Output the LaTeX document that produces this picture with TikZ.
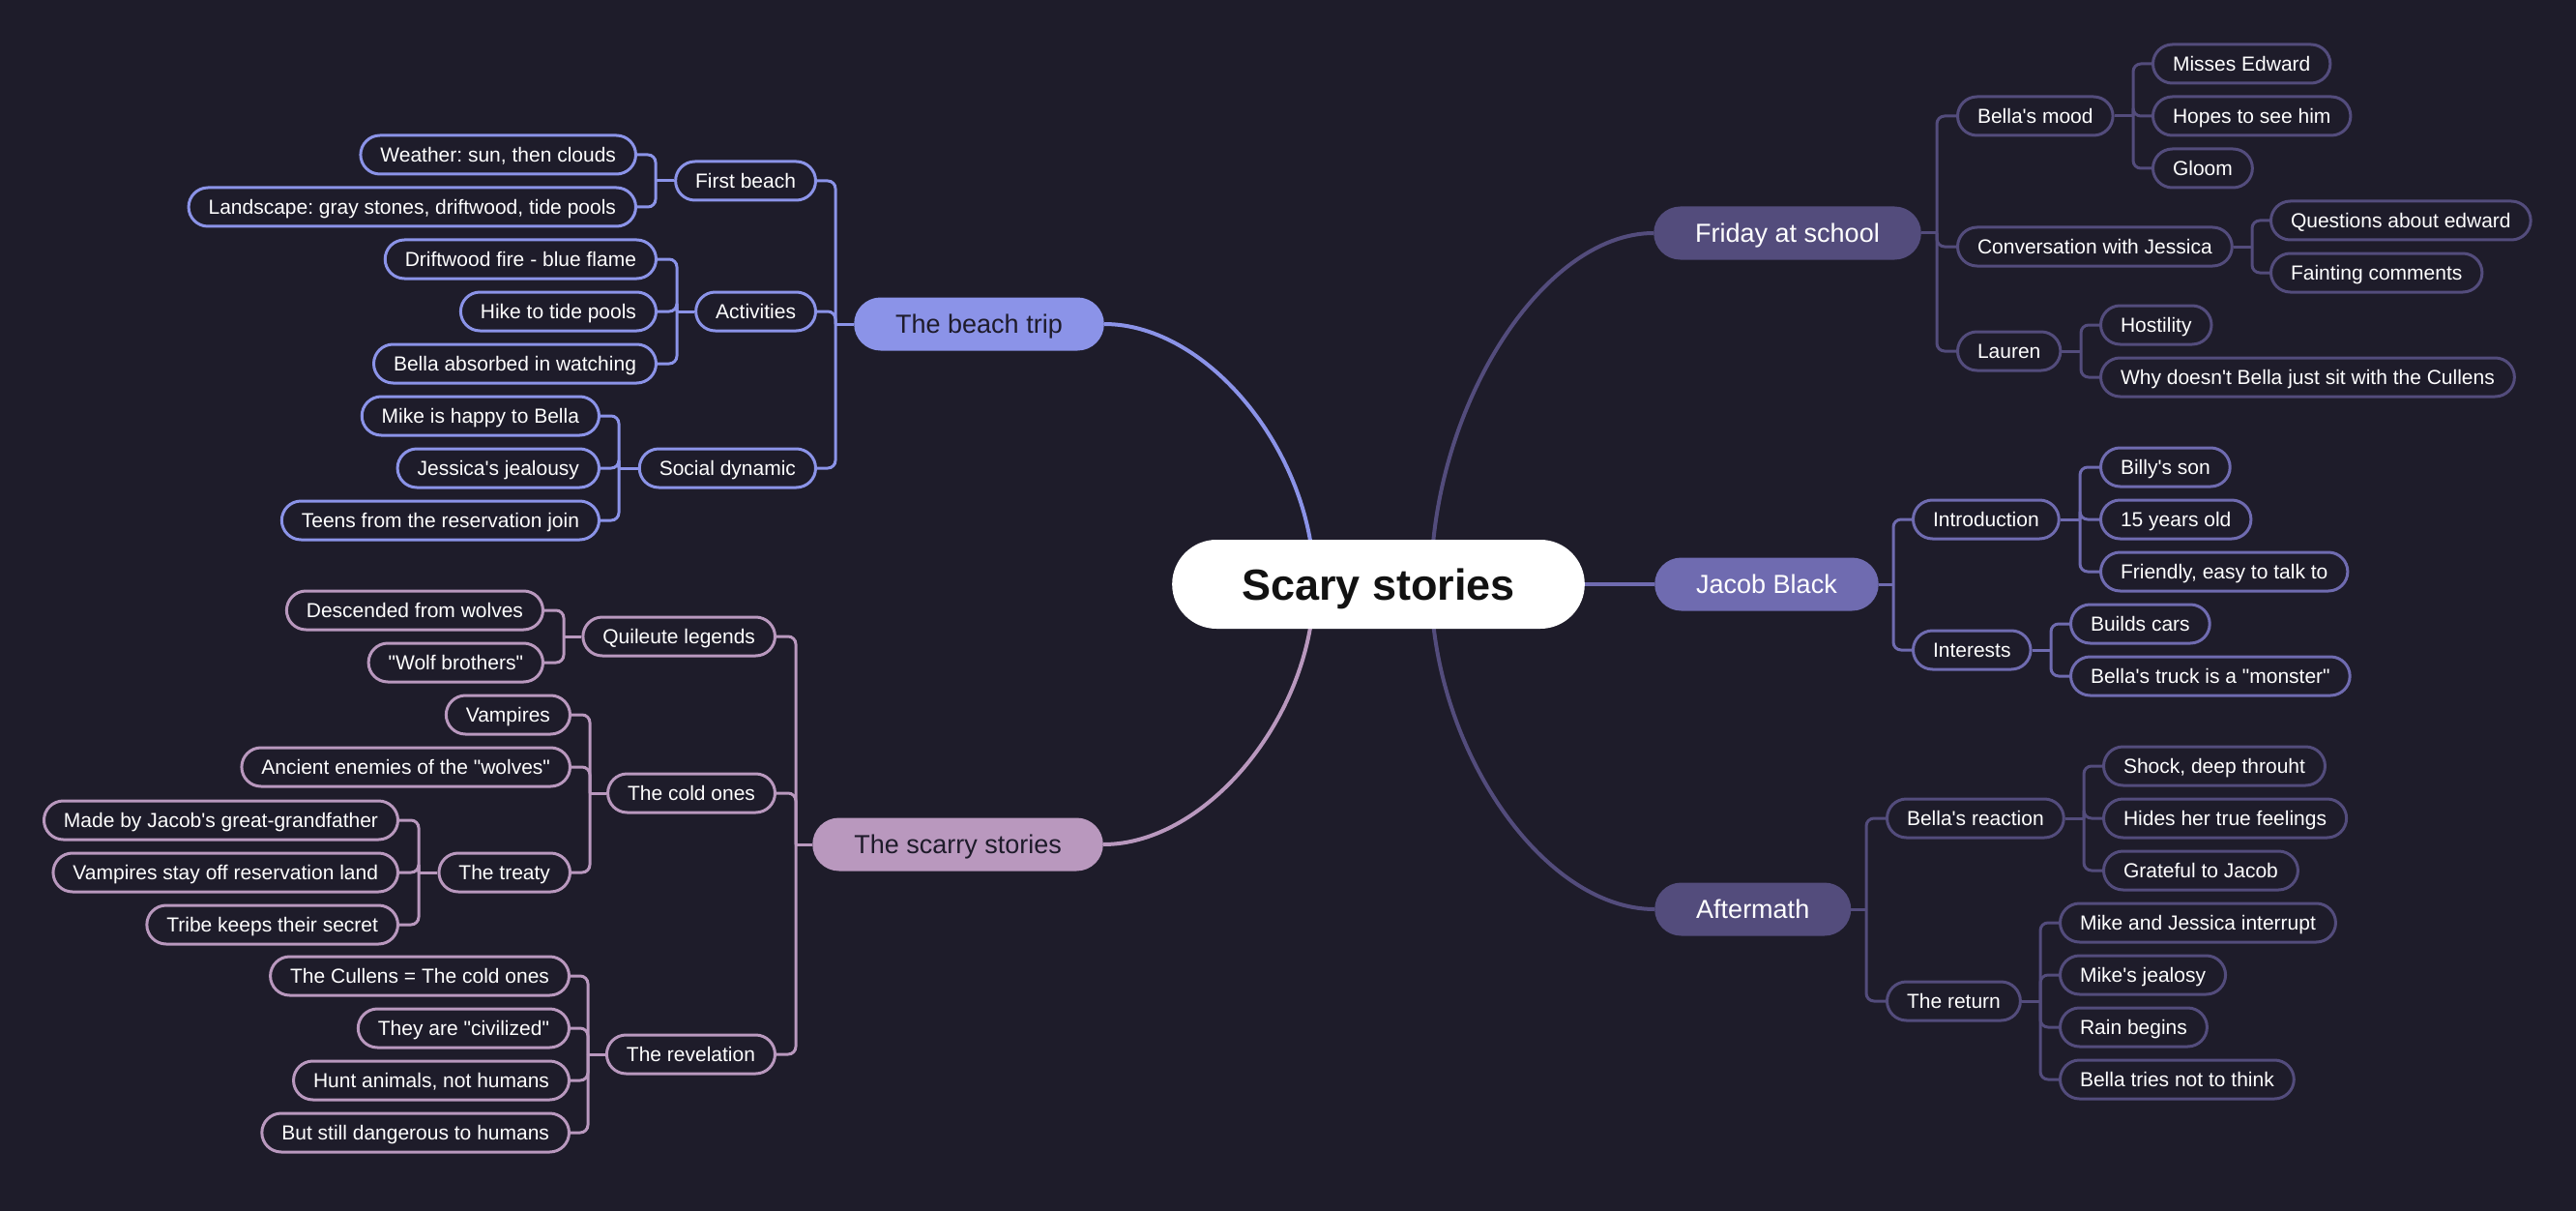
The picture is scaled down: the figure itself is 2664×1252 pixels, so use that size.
\documentclass[tikz,border=0pt]{standalone}
\usepackage{fontspec}
\newfontfamily\af{Liberation Sans}
\usetikzlibrary{backgrounds}
\frenchspacing
\definecolor{bgc}{RGB}{30,28,42}
\definecolor{cB}{RGB}{139,147,232}
\definecolor{cS}{RGB}{185,152,190}
\definecolor{cF}{RGB}{83,76,124}
\definecolor{cJ}{RGB}{111,107,176}
\definecolor{txd}{RGB}{30,27,42}
\tikzset{
  leaf/.style={draw=#1, line width=3pt, fill=bgc, rounded corners=20pt,
    minimum height=40pt, inner xsep=20.5pt, inner ysep=0pt, text=white,
    font=\af\frenchspacing\fontsize{21}{21}\selectfont, text height=17.5pt, text depth=2.5pt},
  mainnode/.style={fill=#1, rounded corners=27.5pt, minimum height=55pt,
    inner xsep=43pt, inner ysep=0pt, font=\af\fontsize{27}{27}\selectfont,
    text height=21pt, text depth=1.7pt},
  rootnode/.style={fill=white, rounded corners=46pt, minimum height=92pt,
    inner xsep=72pt, inner ysep=0pt, text=black!93,
    font=\af\bfseries\fontsize{45}{45}\selectfont, text height=34pt, text depth=1.8pt},
  mainline/.style={draw=#1, line width=4pt},
  subline/.style={draw=#1, line width=3pt},
}
\newcommand\rbranch[4]{%
  \coordinate (tmp) at (#3,0);
  \draw[subline=#1] (#2.east) -- (#2.east -| tmp);
  \foreach \ch in {#4} \draw[subline=#1,rounded corners=8pt] (#2.east -| tmp) |- (\ch.west);
}
\newcommand\lbranch[4]{%
  \coordinate (tmp) at (#3,0);
  \draw[subline=#1] (#2.west) -- (#2.west -| tmp);
  \foreach \ch in {#4} \draw[subline=#1,rounded corners=8pt] (#2.west -| tmp) |- (\ch.east);
}
\begin{document}
\begin{tikzpicture}[x=1pt,y=-1pt]
\useasboundingbox (0,0) rectangle (2664,1252);
% root
\node[rootnode] (root) at (1425.5,604) {Scary stories};
% main branches
\node[mainnode=cB, text=txd, anchor=east] (beach) at (1142,335) {The beach trip};
\node[mainnode=cS, text=txd, anchor=east] (scarry) at (1141,873) {The scarry stories};
\node[mainnode=cF, text=white, anchor=west] (friday) at (1710,241) {Friday at school};
\node[mainnode=cJ, text=white, anchor=west] (jacob) at (1711,604) {Jacob Black};
\node[mainnode=cF, text=white, anchor=west] (after) at (1711,940) {Aftermath};
% Friday at school
\begin{scope}[every node/.style={leaf=cF, anchor=west}]
\node (bmood) at (2023,120) {Bella's mood};
\node (me) at (2225,66) {Misses Edward};
\node (hs) at (2225,120) {Hopes to see him};
\node (gl) at (2225,174) {Gloom};
\node (conv) at (2023,255) {Conversation with Jessica};
\node (qe) at (2347,228) {Questions about edward};
\node (fc) at (2347,282) {Fainting comments};
\node (lau) at (2023,363) {Lauren};
\node (hos) at (2171,336) {Hostility};
\node (why) at (2171,390) {Why doesn't Bella just sit with the Cullens};
\end{scope}
% Jacob Black
\begin{scope}[every node/.style={leaf=cJ, anchor=west}]
\node (intro) at (1977,537) {Introduction};
\node (bs) at (2171,483) {Billy's son};
\node (yo) at (2171,537) {15 years old};
\node (fr) at (2171,591) {Friendly, easy to talk to};
\node (inter) at (1977,672) {Interests};
\node (bc) at (2140,645) {Builds cars};
\node (btr) at (2140,699) {Bella's truck is a "monster"};
\end{scope}
% Aftermath
\begin{scope}[every node/.style={leaf=cF, anchor=west}]
\node (br) at (1950,846) {Bella's reaction};
\node (sh) at (2174,792) {Shock, deep throuht};
\node (hi) at (2174,846) {Hides her true feelings};
\node (gr) at (2174,900) {Grateful to Jacob};
\node (ret) at (1950,1035) {The return};
\node (mj) at (2129,954) {Mike and Jessica interrupt};
\node (mjl) at (2129,1008) {Mike's jealosy};
\node (rb) at (2129,1062) {Rain begins};
\node (btt) at (2129,1116) {Bella tries not to think};
\end{scope}
% The beach trip
\begin{scope}[every node/.style={leaf=cB, anchor=east}]
\node (fb) at (845,187) {First beach};
\node (wea) at (659,160) {Weather: sun, then clouds};
\node (land) at (659,214) {Landscape: gray stones, driftwood, tide pools};
\node (act) at (845,322) {Activities};
\node (df) at (680,268) {Driftwood fire - blue flame};
\node (hike) at (680,322) {Hike to tide pools};
\node (bab) at (680,376) {Bella absorbed in watching};
\node (soc) at (845,484) {Social dynamic};
\node (mike) at (621,430) {Mike is happy to Bella};
\node (jess) at (621,484) {Jessica's jealousy};
\node (teens) at (621,538) {Teens from the reservation join};
\end{scope}
% The scarry stories
\begin{scope}[every node/.style={leaf=cS, anchor=east}]
\node (ql) at (803,658) {Quileute legends};
\node (dw) at (563,631) {Descended from wolves};
\node (wb) at (563,685) {"Wolf brothers"};
\node (co) at (803,820) {The cold ones};
\node (vamp) at (591,739) {Vampires};
\node (anc) at (591,793) {Ancient enemies of the "wolves"};
\node (treaty) at (591,902) {The treaty};
\node (made) at (413,848) {Made by Jacob's great-grandfather};
\node (stay) at (413,902) {Vampires stay off reservation land};
\node (tribe) at (413,956) {Tribe keeps their secret};
\node (rev) at (803,1090) {The revelation};
\node (cul) at (590,1009) {The Cullens = The cold ones};
\node (civ) at (590,1063) {They are "civilized"};
\node (hunt) at (590,1117) {Hunt animals, not humans};
\node (dang) at (590,1171) {But still dangerous to humans};
\end{scope}
\begin{scope}[on background layer]
\fill[bgc] (0,0) rectangle (2664,1252);
\coordinate (cL) at (1359,604);
\coordinate (cR) at (1480,604);
\draw[mainline=cB] (cL) .. controls (1359,470) and (1250,335) .. (beach.east);
\draw[mainline=cS] (cL) .. controls (1359,738) and (1249,873) .. (scarry.east);
\draw[mainline=cF] (cR) .. controls (1480,422) and (1595,241) .. (friday.west);
\draw[mainline=cF] (cR) .. controls (1480,772) and (1595,940) .. (after.west);
\draw[mainline=cJ] (root.east) -- (jacob.west);
\rbranch{cF}{friday}{2003}{bmood,conv,lau}
\rbranch{cF}{bmood}{2206}{me,hs,gl}
\rbranch{cF}{conv}{2329}{qe,fc}
\rbranch{cF}{lau}{2152}{hos,why}
\rbranch{cJ}{jacob}{1958}{intro,inter}
\rbranch{cJ}{intro}{2151}{bs,yo,fr}
\rbranch{cJ}{inter}{2121}{bc,btr}
\rbranch{cF}{after}{1930}{br,ret}
\rbranch{cF}{br}{2155}{sh,hi,gr}
\rbranch{cF}{ret}{2110}{mj,mjl,rb,btt}
\lbranch{cB}{beach}{864}{fb,act,soc}
\lbranch{cB}{fb}{678}{wea,land}
\lbranch{cB}{act}{700}{df,hike,bab}
\lbranch{cB}{soc}{640}{mike,jess,teens}
\lbranch{cS}{scarry}{823}{ql,co,rev}
\lbranch{cS}{ql}{583}{dw,wb}
\lbranch{cS}{co}{610}{vamp,anc,treaty}
\lbranch{cS}{treaty}{433}{made,stay,tribe}
\lbranch{cS}{rev}{608}{cul,civ,hunt,dang}
\end{scope}
\end{tikzpicture}
\end{document}
